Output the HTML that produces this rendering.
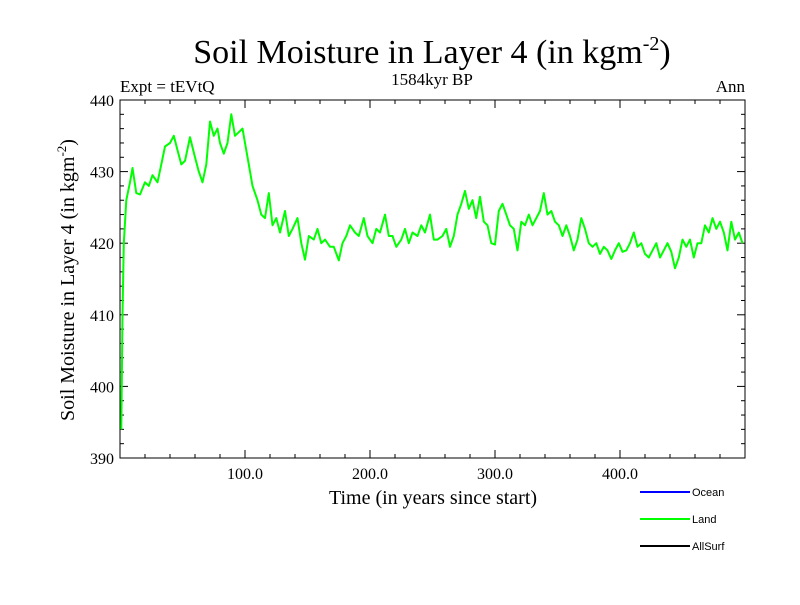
<!DOCTYPE html>
<html><head><meta charset="utf-8"><style>
body{margin:0;background:#fff}
svg text{font-family:"Liberation Serif",serif;fill:#000}
</style></head><body>
<svg id="chart" width="800" height="600">
<text x="432" y="63" font-size="34" text-anchor="middle">Soil Moisture in Layer 4 (in kgm<tspan font-size="20" dy="-13">-2</tspan><tspan dy="13">)</tspan></text>
<text x="120" y="92" font-size="17">Expt = tEVtQ</text>
<text x="432" y="85" font-size="17" text-anchor="middle">1584kyr BP</text>
<text x="745" y="92" font-size="17" text-anchor="end">Ann</text>
<g id="axes"></g>
<text x="433" y="504" font-size="20" text-anchor="middle">Time (in years since start)</text>
<text transform="translate(74,280) rotate(-90)" font-size="20" text-anchor="middle">Soil Moisture in Layer 4 (in kgm<tspan font-size="13" dy="-8">-2</tspan><tspan dy="8">)</tspan></text>
<g shape-rendering="crispEdges">
<line x1="640" y1="492" x2="690" y2="492" stroke="#0000ff" stroke-width="2"/>
<text x="692" y="496" style="font-family:'Liberation Sans',sans-serif" font-size="11">Ocean</text>
<line x1="640" y1="519" x2="690" y2="519" stroke="#00ff00" stroke-width="2"/>
<text x="692" y="523" style="font-family:'Liberation Sans',sans-serif" font-size="11">Land</text>
<line x1="640" y1="546" x2="690" y2="546" stroke="#000" stroke-width="2"/>
<text x="692" y="550" style="font-family:'Liberation Sans',sans-serif" font-size="11">AllSurf</text>
</g>
</svg>
<script>
const years=[1,2,3,5,8,10,13,16,20,23,26,30,33,36,40,43,46,49,52,56,60,63,66,69,72,75,78,80,83,86,89,92,95,98,100,103,106,110,113,116,119,122,125,128,132,135,138,142,145,148,151,155,158,161,164,168,171,175,178,181,184,188,191,195,198,202,205,208,212,215,218,221,225,228,231,234,238,241,244,248,251,254,258,261,264,267,270,273,276,279,282,285,288,291,294,297,300,303,306,309,312,315,318,321,324,327,330,333,336,339,342,345,348,351,354,357,360,363,366,369,372,375,378,381,384,387,390,393,396,399,402,405,408,411,414,417,420,423,426,429,432,435,438,441,444,447,450,453,456,459,462,465,468,471,474,477,480,483,486,489,492,495,498];
const landValues=[394,410,420,426,428.5,430.5,427,426.8,428.5,428,429.5,428.5,431,433.5,434,435,433,431,431.5,434.8,432,430,428.5,431,437,435,436,434,432.5,434,438,435,435.5,436,434,431,428,426,424,423.5,427,422.5,423.5,421.5,424.5,421,422,423.5,420,417.7,421,420.5,422,420,420.5,419.5,419.5,417.6,420,421,422.5,421.5,421,423.5,421,420,422,421.5,424,421,421,419.5,420.5,422,420,421.5,421,422.5,421.5,424,420.5,420.5,421,422,419.5,421,424,425.5,427.3,424.8,426,423.5,426.5,423,422.5,420,419.8,424.5,425.5,424,422.5,422,419,423,422.5,424,422.5,423.5,424.5,427,424,424.5,423,422.5,421,422.5,421,419,420.5,423.5,422,420,419.5,420,418.5,419.5,419,417.8,419,420,418.8,419,420,421.5,419.5,420,418.5,418,419,420,418,419,420,418.8,416.5,418,420.5,419.5,420.5,418,420,420,422.5,421.5,423.5,422,423,421.5,419,423,420.5,421.5,420];
const yTicks=[390,400,410,420,430,440];
const xTickLabels=["100.0","200.0","300.0","400.0"];
const xTickValues=[100,200,300,400];
const L=120,R=745,T=100,B=458;
function xs(v){return L+(v-0)/500*(R-L);}
function ys(v){return B-(v-390)/50*(B-T);}
const NS="http://www.w3.org/2000/svg";
const ax=document.getElementById('axes');
function mk(tag,attrs,parent){const e=document.createElementNS(NS,tag);for(const k in attrs)e.setAttribute(k,attrs[k]);(parent||ax).appendChild(e);return e;}
const frame=mk('rect',{x:L,y:T,width:R-L,height:B-T,fill:'none',stroke:'#000','stroke-width':1});


for(let v=390;v<=440;v+=2){const maj=(v%10===0);const len=maj?8:4;
 const t1=mk('line',{x1:L,x2:L+len,y1:ys(v),y2:ys(v),stroke:'#000'});
 
 
 const t2=mk('line',{x1:R,x2:R-len,y1:ys(v),y2:ys(v),stroke:'#000'});
 
 }
yTicks.forEach(v=>{const t=mk('text',{x:L-6,y:ys(v)+6,'font-size':16,'text-anchor':'end'});t.textContent=v;
 
 });
for(let v=20;v<500;v+=20){const maj=(v%100===0);const len=maj?8:4;
 const t1=mk('line',{x1:xs(v),x2:xs(v),y1:B,y2:B-len,stroke:'#000'});
 
 
 const t2=mk('line',{x1:xs(v),x2:xs(v),y1:T,y2:T+len,stroke:'#000'});
 
 }
xTickValues.forEach((v,i)=>{const t=mk('text',{x:xs(v),y:B+21,'font-size':16,'text-anchor':'middle'});t.textContent=xTickLabels[i];
 
 });
const pts=years.map((y,i)=>xs(y).toFixed(1)+','+ys(landValues[i]).toFixed(1)).join(' ');
const line=mk('polyline',{points:pts,fill:'none',stroke:'#00ff00','stroke-width':2,'stroke-linejoin':'round'});


</script>
</body></html>
